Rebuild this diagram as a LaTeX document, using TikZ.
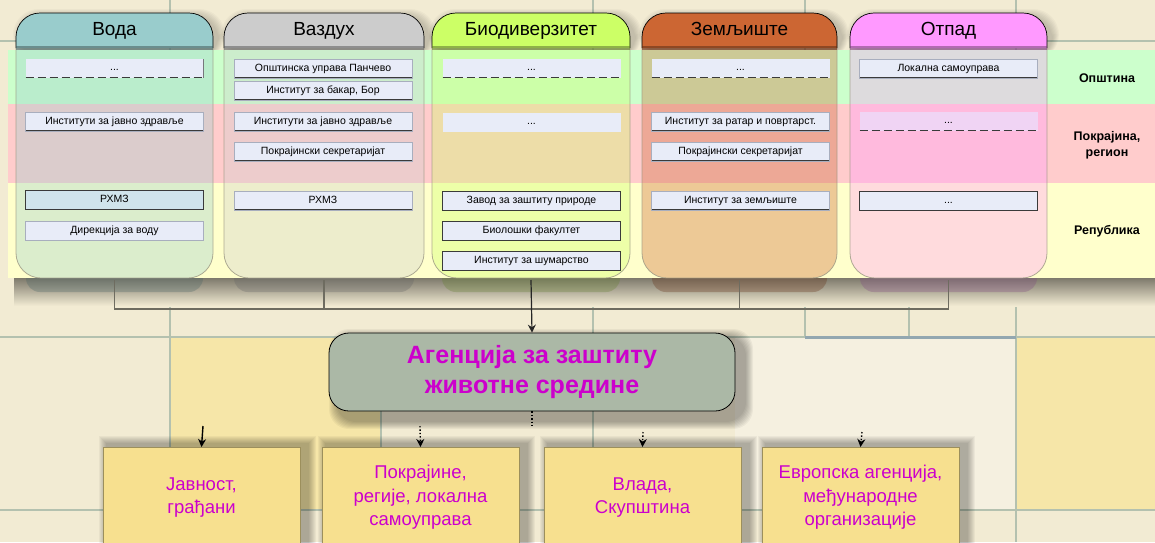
\documentclass[tikz,border=0pt]{standalone}
\usepackage{fontspec}
\setmainfont{Liberation Sans}
\usetikzlibrary{arrows.meta,calc}
\definecolor{bg}{HTML}{F2EBD3}
\definecolor{bgL}{HTML}{F5F0E0}
\definecolor{tileY}{HTML}{F6E6A8}
\definecolor{tileL}{HTML}{B4C1AF}
\definecolor{tileB}{HTML}{93A7B0}
\definecolor{shd}{HTML}{7E7A6C}
\definecolor{bandG}{HTML}{CCFFCC}
\definecolor{bandP}{HTML}{FFCCCC}
\definecolor{bandY}{HTML}{FFFFCC}
\definecolor{cVoda}{HTML}{99CCCC}
\definecolor{cVazd}{HTML}{CCCCCC}
\definecolor{cBio}{HTML}{CCFF66}
\definecolor{cZem}{HTML}{CC6633}
\definecolor{cOtp}{HTML}{FF99FF}
\definecolor{ibox}{HTML}{E8ECF8}
\definecolor{iboxB}{HTML}{D0E4EC}
\definecolor{iboxP}{HTML}{F0D4F4}
\definecolor{ibedge}{HTML}{A8AEBE}
\definecolor{dk}{HTML}{3A3A3A}
\definecolor{mag}{HTML}{CC00CC}
\definecolor{agfill}{HTML}{ABB8A6}
\definecolor{yb}{HTML}{F7E08F}
\definecolor{ybedge}{HTML}{9C8F5C}
\definecolor{conn}{HTML}{6E6C60}
\definecolor{coledge}{HTML}{9C9884}
\begin{document}
\begin{tikzpicture}[x=1pt,y=-1pt,
  hdr/.style={font=\fontsize{19}{22}\selectfont, text=black, inner sep=0pt, anchor=base},
  ib/.style={rectangle, fill=ibox, draw=ibedge, line width=0.6pt, minimum width=178pt, minimum height=19pt, inner sep=0pt, text height=7.5pt, text depth=2pt, font=\fontsize{10.5}{12}\selectfont, text=black},
  lb/.style={path picture={\draw[dk,line width=1.6pt] (path picture bounding box.north west) -- (path picture bounding box.south west) -- (path picture bounding box.south east);}},
  dsh/.style={draw=none, path picture={\draw[dk,line width=1.8pt,dash pattern=on 8pt off 4pt] (path picture bounding box.south west) -- (path picture bounding box.south east);}},
  dshr/.style={draw=none, path picture={\draw[dk,line width=1.8pt,dash pattern=on 8pt off 4pt] (path picture bounding box.south west) -- (path picture bounding box.south east); \draw[dk,line width=1.6pt] (path picture bounding box.south east) -- (path picture bounding box.north east);}},
  fd/.style={draw=dk, line width=0.9pt},
  nb/.style={draw=none},
  rowlab/.style={font=\fontsize{12.5}{16}\selectfont\bfseries, align=center, text=black},
  agency/.style={rectangle, rounded corners=20pt, fill=agfill, draw=black, line width=0.8pt, minimum width=406pt, minimum height=78pt, align=center, text=mag, font=\fontsize{25}{30}\selectfont\bfseries},
  ybox/.style={rectangle, fill=yb, minimum width=197pt, minimum height=100pt, align=center, text=mag, font=\fontsize{18.5}{23.5}\selectfont, draw=ybedge, line width=0.6pt},
  tree/.style={draw=conn, line width=1.2pt},
  arr/.style={-{Stealth[length=8pt,width=8pt]}, line width=1.4pt, draw=black},
  tile/.style={draw=tileL, line width=2.5pt},
]
\useasboundingbox (0,0) rectangle (1155,542);
% ---------- background ----------
\fill[bg] (0,0) rectangle (1155,542);
\fill[bgL] (735,337) rectangle (1016,510);
\fill[tileY] (170,337) rectangle (381,510);
\fill[tileY] (1016,337) rectangle (1155,510);
\draw[tile] (0,41) -- (16,41);
\draw[tile] (1047,41) -- (1155,41);
\draw[tile] (0,337) -- (1155,337);
\draw[tile] (0,510) -- (1155,510);
\draw[tile] (170,0) -- (170,542);
\draw[tile] (381,337) -- (381,510);
\draw[tile] (593,0) -- (593,542);
\draw[tile] (805,0) -- (805,337);
\draw[tile] (909,290) -- (909,337);
\draw[tile] (1016,0) -- (1016,542);
\draw[draw=tileB, line width=3pt] (805,337) -- (1016,337);
\def\cols{16/213/cVoda/voda/Вода, 224/424/cVazd/vazd/Ваздух, 432/630/cBio/bio/Биодиверзитет, 642/837/cZem/zem/Земљиште, 850/1047/cOtp/otp/Отпад}
% ---------- header shadows ----------
\foreach \xa/\xb/\cc/\nm/\tx in \cols {
  \foreach \k in {1,...,7}{
    \fill[black,opacity=.028,rounded corners=26pt] (\xa+4-\k,16-\k) -- (\xa+4-\k,60) -- (\xb+5+\k,60) -- (\xb+5+\k,16-\k) -- cycle;
  }
}
% ---------- shadow strip below the bands ----------
\shade[top color=shd, bottom color=bg] (14,278) rectangle (1155,306);
\shade[left color=bg, right color=bg, middle color=bg, opacity=0] (0,278) rectangle (14,306);
\foreach \xa/\xb/\cc/\nm/\tx in \cols {
  \fill[\cc!50!black, opacity=.32, rounded corners=14pt] (\xa+10,262) rectangle (\xb-10,292);
}
% ---------- bands ----------
\fill[bandG] (8,50) rectangle (1155,104);
\fill[bandP] (8,104) rectangle (1155,183);
\fill[bandY] (8,183) rectangle (1155,278);
% ---------- column bodies and headers ----------
\foreach \xa/\xb/\cc/\nm/\tx in \cols {
  \fill[\cc, opacity=.35, rounded corners=25pt] (\xa,48) -- (\xa,278) -- (\xb,278) -- (\xb,48);
  \draw[coledge, line width=0.8pt, opacity=.8, rounded corners=25pt] (\xa,48) -- (\xa,278) -- (\xb,278) -- (\xb,48);
  \path[fill=\cc, draw=black, line width=0.7pt, rounded corners=24pt] (\xa,48) -- (\xa,13) -- (\xb,13) -- (\xb,48);
  \fill[\cc!45!black, opacity=.55] (\xa,46) rectangle (\xb,50);
  \node[hdr] (\nm) at ({(\xa+\xb)/2},35.5) {\tx};
  \coordinate (\nm-b) at ({(\xa+\xb)/2},280);
}
% ---------- inner boxes ----------
% Voda
\node[ib,dshr] (v1) at (114.5,68) {...};
\node[ib,lb] (v2) at (114.5,121.5) {Институти за јавно здравље};
\node[ib,fd,fill=iboxB,lb] (v3) at (114.5,200) {РХМЗ};
\node[ib,lb] (v4) at (114.5,231) {Дирекција за воду};
% Vazduh
\node[ib,lb] (a1) at (323,68.5) {Општинска управа Панчево};
\node[ib,lb] (a2) at (323,90.5) {Институт за бакар, Бор};
\node[ib,lb] (a3) at (323,121.5) {Институти за јавно здравље};
\node[ib,lb] (a4) at (323,151.5) {Покрајински секретаријат};
\node[ib,lb] (a5) at (323,200.5) {РХМЗ};
% Biodiverzitet
\node[ib,dsh] (b1) at (531.5,68) {...};
\node[ib,nb] (b2) at (531.5,122) {...};
\node[ib,fd] (b3) at (531.5,200.5) {Завод за заштиту природе};
\node[ib,fd] (b4) at (531.5,230.5) {Биолошки факултет};
\node[ib,fd] (b5) at (531.5,260.5) {Институт за шумарство};
% Zemljiste
\node[ib,dsh] (z1) at (740.5,68) {...};
\node[ib,lb] (z2) at (740.5,121.5) {Институт за ратар и повртарст.};
\node[ib,lb] (z3) at (740.5,151.5) {Покрајински секретаријат};
\node[ib,lb] (z4) at (740.5,200.5) {Институт за земљиште};
% Otpad
\node[ib,lb] (o1) at (948.5,68.5) {Локална самоуправа};
\node[ib,dsh,fill=iboxP] (o2) at (948.5,121) {...};
\node[ib,fd] (o3) at (948.5,200.5) {...};
% ---------- row labels ----------
\node[rowlab] (r1) at (1107,78) {Општина};
\node[rowlab] (r2) at (1107,145) {Покрајина,\\регион};
\node[rowlab] (r3) at (1107,231) {Република};
% ---------- tree ----------
\coordinate (j) at (531,309);
\draw[tree] (voda-b) |- (j) -| (otp-b);
\draw[tree] (vazd-b) -- (vazd-b |- j);
\draw[tree] (zem-b) -- (zem-b |- j);
% ---------- agency ----------
\foreach \k in {1,...,8}{
  \fill[black,opacity=.045,rounded corners=20pt] (337-\k,337-\k) rectangle (745+\k,421+\k);
}
\node[agency] (ag) at (532,372) {Агенција за заштиту\\животне средине};
\draw[tree,-{Stealth[length=8pt,width=8pt]},draw=black!85] (bio-b) -- (ag.north);
% ---------- bottom boxes ----------
\foreach \xa in {103,322,544,762}{
  \foreach \k in {1,...,8}{
    \fill[black,opacity=.04] (\xa+4-\k,444-\k) rectangle (\xa+205+\k,560);
  }
}
\node[ybox,anchor=north] (p1) at (201.5,447) {Јавност,\\грађани};
\node[ybox,anchor=north] (p2) at (420.5,447) {Покрајине,\\регије, локална\\самоуправа};
\node[ybox,anchor=north] (p3) at (642.5,447) {Влада,\\Скупштина};
\node[ybox,anchor=north] (p4) at (860.5,447) {Европска агенција,\\међународне\\организације};
% ---------- arrows ----------
\coordinate (ag-s) at (532,426);
\draw[line width=1.4pt, dotted] (ag.south) -- (ag-s);
\coordinate (q1) at (203,426);
\coordinate (q2) at (420,426);
\coordinate (q3) at (643,432);
\coordinate (q4) at (862,432);
\draw[arr] (q1) -- (p1.north);
\draw[arr, dotted] (q2) -- (p2.north);
\draw[arr, dotted] (q3) -- (p3.north);
\draw[arr, dotted] (q4) -- (p4.north);
\end{tikzpicture}
\end{document}
